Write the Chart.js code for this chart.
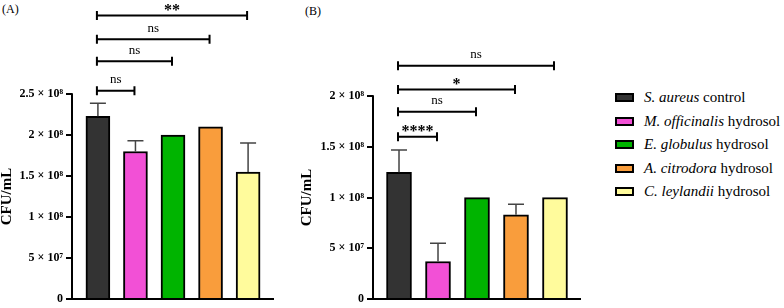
<!DOCTYPE html>
<html>
<head>
<meta charset="utf-8">
<script src="https://cdn.jsdelivr.net/npm/chart.js@4.4.1/dist/chart.umd.min.js"></script>
<style>
  body { margin: 0; background: #fff; width: 784px; height: 308px; position: relative; overflow: hidden; font-family: "Liberation Serif", "Times New Roman", serif; color: #000; }
  .wrap { position: absolute; top: 0; height: 308px; }
  #wrapA { left: 0; width: 290px; }
  #wrapB { left: 300px; width: 297px; }
  .tag { position: absolute; font-size: 12px; line-height: 12px; }
  #legend { position: absolute; left: 615px; top: 86px; font-size: 15px; }
  .item { height: 23.5px; display: flex; align-items: center; white-space: nowrap; }
  .swatch { width: 15px; height: 5px; border: 2px solid #000; margin-right: 10px; }
</style>
</head>
<body>
<div class="tag" style="left:2px;top:3px;">(A)</div>
<div class="tag" style="left:305px;top:5px;">(B)</div>
<div class="wrap" id="wrapA"><canvas id="chartA"></canvas></div>
<div class="wrap" id="wrapB"><canvas id="chartB"></canvas></div>
<div id="legend"></div>
<script>
// groups
const species = ['S. aureus', 'M. officinalis', 'E. globulus', 'A. citrodora', 'C. leylandii'];
const suffix = ['control', 'hydrosol', 'hydrosol', 'hydrosol', 'hydrosol'];
const colors = ['#333333', '#f250d6', '#00b400', '#f99d3c', '#fffb9c'];

// panel A
const meansA = [2.23e8, 1.80e8, 2.0e8, 2.1e8, 1.55e8];
const errA = [0.16e8, 0.13e8, 0, 0, 0.355e8];
const yTicksA = [0, 5e7, 1e8, 1.5e8, 2e8, 2.5e8];
const yLabelsA = ['0', '5 × 10⁷', '1 × 10⁸', '1.5 × 10⁸', '2 × 10⁸', '2.5 × 10⁸'];
const bracketToA = [2, 3, 4, 5];
const bracketLevelA = [2.54e8, 2.90e8, 3.17e8, 3.46e8];
const bracketTextA = ['ns', 'ns', 'ns', '**'];

// panel B
const meansB = [1.25e8, 0.37e8, 1.0e8, 0.83e8, 1.0e8];
const errB = [0.22e8, 0.18e8, 0, 0.105e8, 0];
const yTicksB = [0, 5e7, 1e8, 1.5e8, 2e8];
const yLabelsB = ['0', '5 × 10⁷', '1 × 10⁸', '1.5 × 10⁸', '2 × 10⁸'];
const bracketToB = [2, 3, 4, 5];
const bracketLevelB = [1.60e8, 1.845e8, 2.066e8, 2.30e8];
const bracketTextB = ['****', 'ns', '*', 'ns'];

const yTitle = 'CFU/mL';
const serif = '"Liberation Serif", "Times New Roman", serif';

// legend
const legend = document.getElementById('legend');
species.forEach(function(name, i) {
    const row = document.createElement('div');
    row.className = 'item';
    row.innerHTML = '<span class="swatch" style="background:' + colors[i] + '"></span><i>' + name + '</i>&nbsp;' + suffix[i];
    legend.appendChild(row);
});

// axes lines, axis title, error bars and significance brackets
const extras = {
    id: 'extras',
    afterDatasetsDraw(chart, args, opts) {
        const ctx = chart.ctx;
        const x = chart.scales.x, y = chart.scales.y;
        const area = chart.chartArea;
        const yTop = y.getPixelForValue(opts.ticks[opts.ticks.length - 1]);
        const yZero = y.getPixelForValue(0);
        ctx.save();
        // error bars (upper only)
        ctx.strokeStyle = '#444';
        ctx.lineWidth = 1.5;
        chart.getDatasetMeta(0).data.forEach(function(bar, i) {
            const e = opts.errors[i];
            if (!e) return;
            const top = y.getPixelForValue(opts.means[i] + e);
            ctx.beginPath();
            ctx.moveTo(bar.x, bar.y);
            ctx.lineTo(bar.x, top);
            ctx.moveTo(bar.x - 8, top);
            ctx.lineTo(bar.x + 8, top);
            ctx.stroke();
        });
        // axes
        ctx.strokeStyle = '#000';
        ctx.lineWidth = 2;
        ctx.beginPath();
        ctx.moveTo(area.left, yZero + 1);
        ctx.lineTo(area.left, yTop - 1);
        ctx.moveTo(area.left - 1, yZero);
        ctx.lineTo(area.right, yZero);
        ctx.stroke();
        // y title, centred on the drawn axis
        ctx.save();
        ctx.translate(y.left + 7, (yZero + yTop) / 2);
        ctx.rotate(-Math.PI / 2);
        ctx.fillStyle = '#000';
        ctx.font = 'bold 15px ' + serif;
        ctx.textAlign = 'center';
        ctx.textBaseline = 'middle';
        ctx.fillText(yTitle, 0, 0);
        ctx.restore();
        // brackets
        opts.bracketTo.forEach(function(to, i) {
            const yy = y.getPixelForValue(opts.bracketLevel[i]);
            const x1 = x.getPixelForValue(1) - 1;
            const x2 = x.getPixelForValue(to) - 1;
            ctx.beginPath();
            ctx.moveTo(x1, yy); ctx.lineTo(x2, yy);
            ctx.moveTo(x1, yy - 4.5); ctx.lineTo(x1, yy + 4.5);
            ctx.moveTo(x2, yy - 4.5); ctx.lineTo(x2, yy + 4.5);
            ctx.stroke();
            const txt = opts.bracketText[i];
            ctx.fillStyle = '#000';
            ctx.textAlign = 'center';
            ctx.textBaseline = 'middle';
            if (txt === 'ns') {
                ctx.font = '13px ' + serif;
                ctx.fillText(txt, (x1 + x2) / 2, yy - 11);
            } else {
                ctx.font = 'bold 16px ' + serif;
                ctx.fillText(txt, (x1 + x2) / 2, yy - 5);
            }
        });
        ctx.restore();
    }
};

function makeChart(id, means, errors, ticks, labels, yMax, xMin, xMax, axisWidth, barWidth, bracketTo, bracketLevel, bracketText) {
    const ctx = document.getElementById(id).getContext('2d');
    return new Chart(ctx, {
        type: 'bar',
        data: {
            datasets: [{
                data: means.map(function(v, i) { return {x: i + 1, y: v}; }),
                backgroundColor: colors,
                borderColor: '#000',
                borderWidth: 2,
                barThickness: barWidth
            }]
        },
        options: {
            responsive: true,
            maintainAspectRatio: false,
            animation: false,
            layout: { padding: { top: 8, bottom: 7, left: 0, right: 16 } },
            plugins: {
                legend: { display: false },
                tooltip: { enabled: false },
                extras: {
                    means: means, errors: errors, ticks: ticks,
                    bracketTo: bracketTo, bracketLevel: bracketLevel, bracketText: bracketText
                }
            },
            scales: {
                x: { type: 'linear', min: xMin, max: xMax, offset: false, display: false },
                y: {
                    min: 0,
                    max: yMax,
                    afterBuildTicks: function(scale) {
                        scale.ticks = ticks.map(function(v) { return {value: v}; });
                    },
                    afterFit: function(scale) { scale.width = axisWidth; },
                    ticks: {
                        padding: 3,
                        color: '#000',
                        font: { family: serif, size: 12, weight: 'bold', lineHeight: 1 },
                        callback: function(value, index) { return labels[index]; }
                    },
                    grid: { drawOnChartArea: false, drawTicks: true, tickLength: 6, color: '#000', lineWidth: 2 },
                    border: { display: false },
                    title: { display: false }
                }
            }
        },
        plugins: [extras]
    });
}

document.addEventListener('DOMContentLoaded', function() {
    makeChart('chartA', meansA, errA, yTicksA, yLabelsA, 3.539e8, 0.31, 5.69, 72, 24, bracketToA, bracketLevelA, bracketTextA);
    makeChart('chartB', meansB, errB, yTicksB, yLabelsB, 2.859e8, 0.333, 5.667, 73, 25, bracketToB, bracketLevelB, bracketTextB);
});
</script>
</body>
</html>
